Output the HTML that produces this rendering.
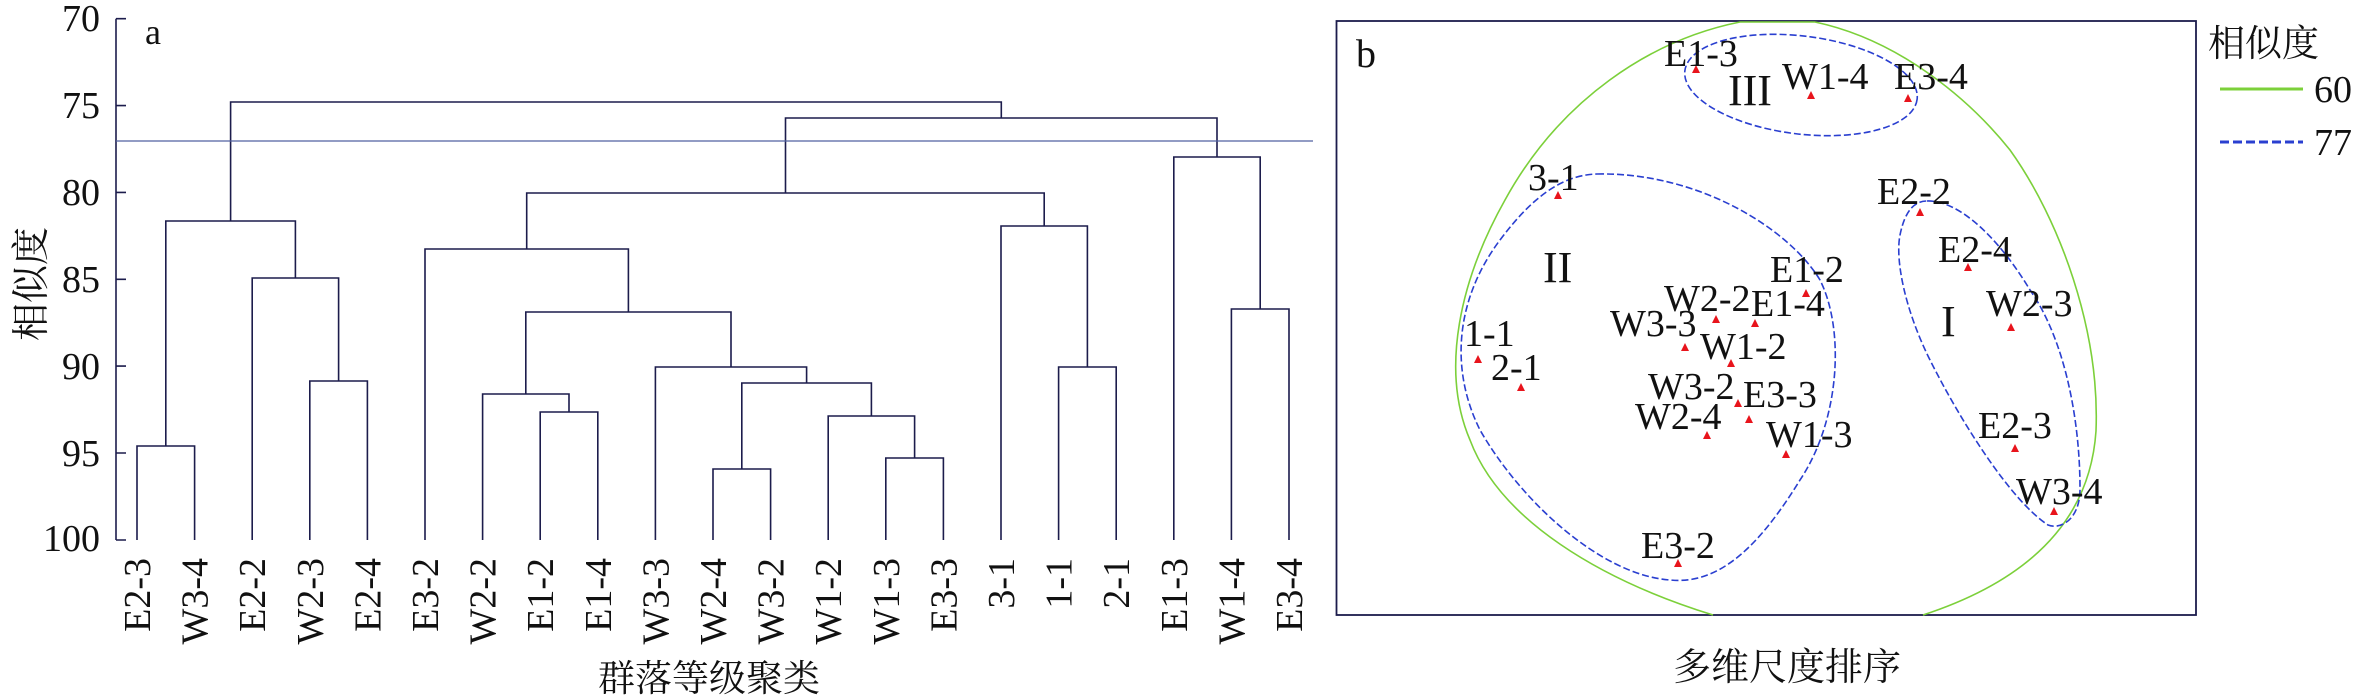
<!DOCTYPE html>
<html><head><meta charset="utf-8"><style>
html,body{margin:0;padding:0;background:#fff;}
svg{display:block;}
text{font-family:"Liberation Serif","Noto Serif CJK SC","Noto Sans CJK SC",serif;fill:#111;}
</style></head><body>
<svg width="2362" height="697" viewBox="0 0 2362 697" xmlns="http://www.w3.org/2000/svg">
<g stroke="#1c1c4c" stroke-width="1.6" fill="none">
<path d="M116 18.7V540"/>
<path d="M116 18.7h10M116 105.6h10M116 192.4h10M116 279.3h10M116 366.1h10M116 453h10M116 540h10"/>
<path d="M137 540V446H194.6V540"/>
<path d="M309.8 540V381H367.4V540"/>
<path d="M252.2 540V278H338.6V381"/>
<path d="M165.8 446V221H295.4V278"/>
<path d="M885.8 540V458H943.4V540"/>
<path d="M828.2 540V416H914.6V458"/>
<path d="M713 540V469H770.6V540"/>
<path d="M741.8 469V383H871.4V416"/>
<path d="M655.4 540V367H806.6V383"/>
<path d="M540.2 540V412H597.8V540"/>
<path d="M482.6 540V394H569V412"/>
<path d="M525.8 394V312H731V367"/>
<path d="M425 540V249H628.4V312"/>
<path d="M1058.6 540V367H1116.2V540"/>
<path d="M1001 540V226H1087.4V367"/>
<path d="M526.7 249V193H1044.2V226"/>
<path d="M1231.4 540V309H1289V540"/>
<path d="M1173.8 540V157H1260.2V309"/>
<path d="M785.5 193V118H1217V157"/>
<path d="M230.6 221V102H1001.3V118"/>
</g>
<path d="M116 141H1313" stroke="#5060a0" stroke-width="1.2"/>
<g font-size="38" text-anchor="end">
<text x="100" y="31">70</text>
<text x="100" y="118">75</text>
<text x="100" y="205">80</text>
<text x="100" y="292">85</text>
<text x="100" y="379">90</text>
<text x="100" y="466">95</text>
<text x="100" y="551">100</text>
</g>
<text x="145" y="44" font-size="36">a</text>
<g font-size="38" text-anchor="end">
<text transform="translate(150,558) rotate(-90)">E2-3</text>
<text transform="translate(207.6,558) rotate(-90)">W3-4</text>
<text transform="translate(265.2,558) rotate(-90)">E2-2</text>
<text transform="translate(322.8,558) rotate(-90)">W2-3</text>
<text transform="translate(380.4,558) rotate(-90)">E2-4</text>
<text transform="translate(438,558) rotate(-90)">E3-2</text>
<text transform="translate(495.6,558) rotate(-90)">W2-2</text>
<text transform="translate(553.2,558) rotate(-90)">E1-2</text>
<text transform="translate(610.8,558) rotate(-90)">E1-4</text>
<text transform="translate(668.4,558) rotate(-90)">W3-3</text>
<text transform="translate(726,558) rotate(-90)">W2-4</text>
<text transform="translate(783.6,558) rotate(-90)">W3-2</text>
<text transform="translate(841.2,558) rotate(-90)">W1-2</text>
<text transform="translate(898.8,558) rotate(-90)">W1-3</text>
<text transform="translate(956.4,558) rotate(-90)">E3-3</text>
<text transform="translate(1014,558) rotate(-90)">3-1</text>
<text transform="translate(1071.6,558) rotate(-90)">1-1</text>
<text transform="translate(1129.2,558) rotate(-90)">2-1</text>
<text transform="translate(1186.8,558) rotate(-90)">E1-3</text>
<text transform="translate(1244.4,558) rotate(-90)">W1-4</text>
<text transform="translate(1302,558) rotate(-90)">E3-4</text>
</g>
<text x="709" y="691" font-size="37" text-anchor="middle">群落等级聚类</text>
<text transform="translate(44,284) rotate(-90)" font-size="38" text-anchor="middle">相似度</text>

<rect x="1336.5" y="21" width="859.5" height="594" fill="none" stroke="#1c1c4c" stroke-width="1.8"/>
<path d="M1815 22 L1740 22 C1650 40,1560 100,1505 200 C1460 280,1440 370,1470 440 C1500 520,1600 580,1713 615 M1923 615 C2030 580,2090 520,2096 431 C2100 330,2060 220,2010 150 C1970 100,1900 40,1815 22" fill="none" stroke="#7cd03a" stroke-width="1.6"/>
<g fill="none" stroke="#2a3fd0" stroke-width="1.6" stroke-dasharray="7,3">
<ellipse cx="1801" cy="85" rx="117" ry="49" transform="rotate(7 1801 85)"/>
<path d="M1597 174 C1700 172,1790 230,1820 280 C1845 330,1840 420,1800 480 C1760 545,1720 585,1670 580 C1600 575,1520 500,1480 430 C1450 370,1455 300,1500 240 C1530 200,1560 175,1597 174Z"/>
<path d="M1927 201 C1960 200,2000 240,2030 290 C2065 340,2080 420,2080 489 C2080 520,2060 530,2048 525 C2010 500,1960 420,1930 360 C1905 310,1895 260,1900 235 C1905 210,1915 201,1927 201Z"/>
</g>
<g fill="#e8141c">
<polygon points="1696,65 1692,73 1700,73"/>
<polygon points="1811,91 1807,99 1815,99"/>
<polygon points="1908,94 1904,102 1912,102"/>
<polygon points="1558,191 1554,199 1562,199"/>
<polygon points="1920,208 1916,216 1924,216"/>
<polygon points="1968,263 1964,271 1972,271"/>
<polygon points="1806,289 1802,297 1810,297"/>
<polygon points="1716,315 1712,323 1720,323"/>
<polygon points="1755,319 1751,327 1759,327"/>
<polygon points="1685,343 1681,351 1689,351"/>
<polygon points="1731,359 1727,367 1735,367"/>
<polygon points="1478,355 1474,363 1482,363"/>
<polygon points="1521,383 1517,391 1525,391"/>
<polygon points="1738,399 1734,407 1742,407"/>
<polygon points="1749,415 1745,423 1753,423"/>
<polygon points="1707,431 1703,439 1711,439"/>
<polygon points="1786,450 1782,458 1790,458"/>
<polygon points="1678,559 1674,567 1682,567"/>
<polygon points="2011,323 2007,331 2015,331"/>
<polygon points="2015,444 2011,452 2019,452"/>
<polygon points="2054,507 2050,515 2058,515"/>
</g>
<g font-size="38">
<text x="1664" y="66">E1-3</text>
<text x="1782" y="89">W1-4</text>
<text x="1894" y="89">E3-4</text>
<text x="1528" y="190">3-1</text>
<text x="1877" y="204">E2-2</text>
<text x="1938" y="262">E2-4</text>
<text x="1770" y="282">E1-2</text>
<text x="1664" y="311">W2-2</text>
<text x="1751" y="316">E1-4</text>
<text x="1610" y="336">W3-3</text>
<text x="1700" y="359">W1-2</text>
<text x="1464" y="346">1-1</text>
<text x="1491" y="380">2-1</text>
<text x="1648" y="399">W3-2</text>
<text x="1743" y="407">E3-3</text>
<text x="1635" y="429">W2-4</text>
<text x="1766" y="447">W1-3</text>
<text x="1641" y="558">E3-2</text>
<text x="1986" y="316">W2-3</text>
<text x="1978" y="438">E2-3</text>
<text x="2016" y="504">W3-4</text>
</g>
<g font-size="44">
<text x="1728" y="105">III</text>
<text x="1543" y="282">II</text>
<text x="1941" y="336">I</text>
</g>
<text x="1356" y="67" font-size="40">b</text>
<text x="2208" y="56" font-size="37">相似度</text>
<path d="M2220 89H2303" stroke="#7cd03a" stroke-width="3"/>
<text x="2314" y="102" font-size="38">60</text>
<path d="M2220 142H2303" stroke="#2a3fd0" stroke-width="3" stroke-dasharray="9,4"/>
<text x="2314" y="155" font-size="38">77</text>
<text x="1787" y="680" font-size="38" text-anchor="middle">多维尺度排序</text>
</svg>
</body></html>
